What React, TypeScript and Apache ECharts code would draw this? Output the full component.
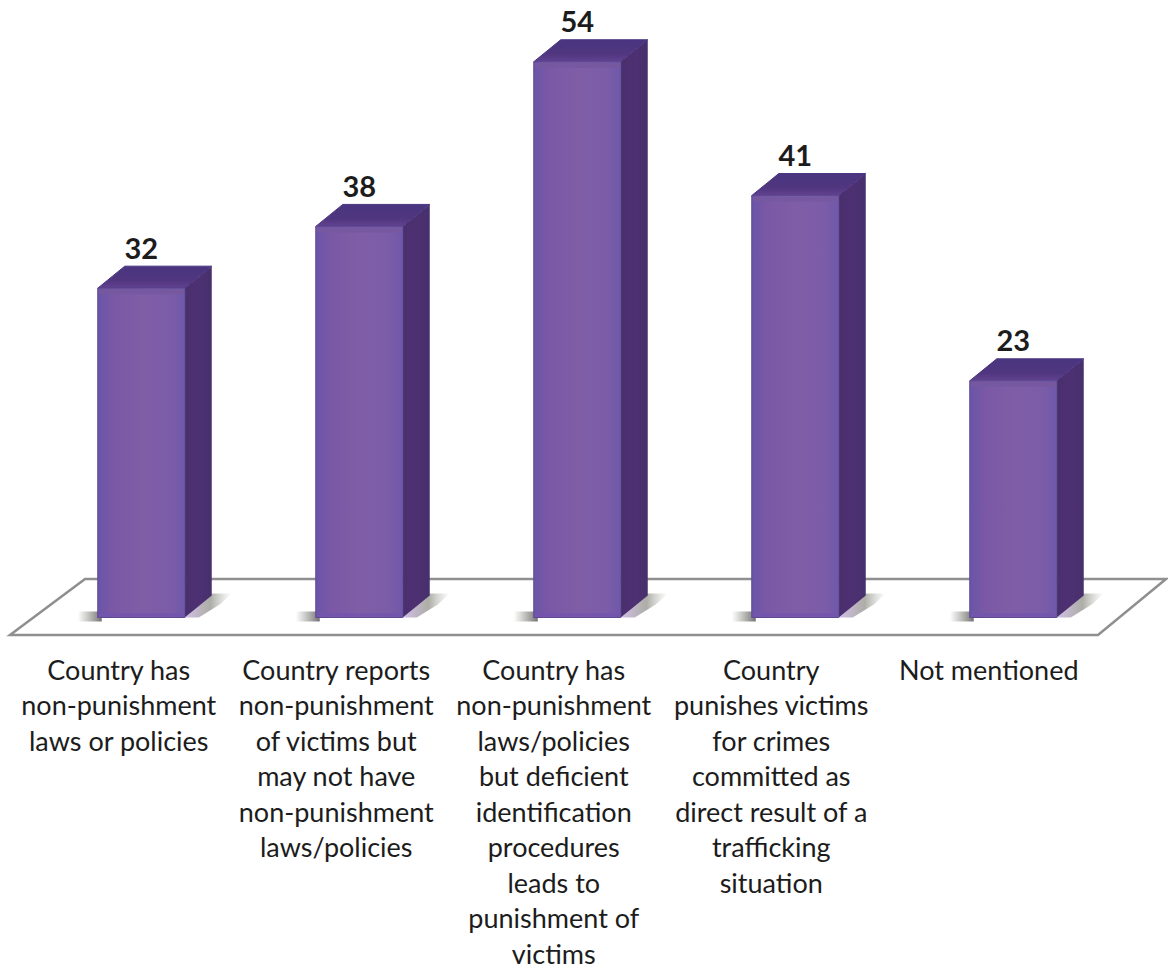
import React, { useEffect, useRef } from "react";
import * as echarts from "echarts";

const categories = [
  "Country has\nnon-punishment\nlaws or policies",
  "Country reports\nnon-punishment\nof victims but\nmay not have\nnon-punishment\nlaws/policies",
  "Country has\nnon-punishment\nlaws/policies\nbut deficient\nidentification\nprocedures\nleads to\npunishment of\nvictims",
  "Country\npunishes victims\nfor crimes\ncommitted as\ndirect result of a\ntrafficking\nsituation",
  "Not mentioned",
];
const values = [32, 38, 54, 41, 23];

const FONT = "Lato, Carlito, 'Open Sans', sans-serif";
const grad = (x2: number, y2: number, stops: [number, string][]) => ({
  type: "linear",
  x: 0,
  y: 0,
  x2,
  y2,
  colorStops: stops.map(([offset, color]) => ({ offset, color })),
});

const renderBar = (_params: any, api: any) => {
  const idx = api.value(0);
  const top = api.coord([idx, api.value(1)]);
  const base = api.coord([idx, 0]);
  const w = 87;
  const dx = 27;
  const dy = 22;
  const l = top[0] - 21 + idx * 0.5;
  const r = l + w;
  const t = top[1];
  const b = base[1];
  const poly = (points: number[][], fill: any, extra: any = {}) => ({
    type: "polygon",
    shape: { points },
    style: { fill, ...extra },
  });
  return {
    type: "group",
    children: [
      poly(
        [[l - 20, b - 6], [l + 4, b - 6], [l + 4, b + 4], [l - 20, b + 4]],
        grad(1, 0, [[0, "rgba(130,130,125,0)"], [0.6, "rgba(120,120,115,0.6)"], [1, "rgba(100,95,100,0.9)"]])
      ),
      poly(
        [[r, b], [r + dx, b - dy - 2], [r + dx + 20, b - dy - 2], [r + dx + 8, b - dy + 9], [r + 14, b]],
        grad(1, 0, [[0, "rgba(190,165,220,0.7)"], [0.55, "rgba(130,130,120,0.65)"], [1, "rgba(160,160,155,0)"]])
      ),
      poly(
        [[r, t], [r + dx, t - dy], [r + dx, b - dy], [r, b]],
        grad(1, 0, [[0, "#4a2f6e"], [0.55, "#4d3072"], [1, "#46306c"]])
      ),
      poly(
        [[l, t], [l + dx, t - dy], [r + dx, t - dy], [r, t]],
        grad(0, 1, [[0, "#4a3580"], [0.65, "#50367f"], [1, "#634291"]]),
        { stroke: "#4a3580", lineWidth: 1, lineJoin: "round" }
      ),
      poly(
        [[l, t], [r, t], [r, b], [l, b]],
        grad(1, 0, [[0, "#6a55a8"], [0.17, "#7a58a6"], [0.5, "#7f5ea6"], [0.85, "#7b5ca8"], [1, "#6f58aa"]]),
        { stroke: "#5d4a92", lineWidth: 1 }
      ),
      poly([[l + 1, b - 4], [r - 1, b - 4], [r - 1, b - 1], [l + 1, b - 1]], "#7355ad"),
      poly([[l + 1, t + 1], [r - 1, t + 1], [r - 1, t + 6], [l + 1, t + 6]], "#7558a0"),
      {
        type: "text",
        x: (l + r) / 2,
        y: t - 41,
        style: {
          text: String(api.value(1)),
          font: `bold 29px ${FONT}`,
          fill: "#1c1c1c",
          textAlign: "center",
          textVerticalAlign: "middle",
        },
      },
    ],
  };
};

export default function App() {
  const ref = useRef<HTMLDivElement>(null);
  useEffect(() => {
    document.body.style.margin = "0";
    const chart = echarts.init(ref.current!, undefined, { renderer: "svg" });
    chart.setOption({
      animation: false,
      backgroundColor: "#ffffff",
      grid: { left: 10, width: 1087.5, top: 0, height: 620 },
      xAxis: {
        type: "category",
        data: categories,
        axisLine: { show: false },
        axisTick: { show: false },
        axisLabel: {
          interval: 0,
          margin: 34,
          verticalAlign: "top",
          align: "center",
          fontFamily: FONT,
          fontSize: 27,
          lineHeight: 35.5,
          color: "#1c1c1c",
        },
      },
      yAxis: { type: "value", min: 0, max: 60, show: false },
      graphic: [
        {
          type: "polygon",
          z: 0,
          shape: { points: [[10, 635], [85, 579], [1166, 579], [1098, 635]] },
          style: { fill: "#ffffff", stroke: "#8f8f8f", lineWidth: 2.5 },
        },
      ],
      series: [
        {
          type: "custom",
          data: values.map((v, i) => [i, v]),
          encode: { x: 0, y: 1 },
          clip: false,
          renderItem: (p: any, api: any) => renderBar(p, api),
        },
      ],
    });
    return () => chart.dispose();
  }, []);
  return <div ref={ref} style={{ width: 1168, height: 971 }} />;
}
